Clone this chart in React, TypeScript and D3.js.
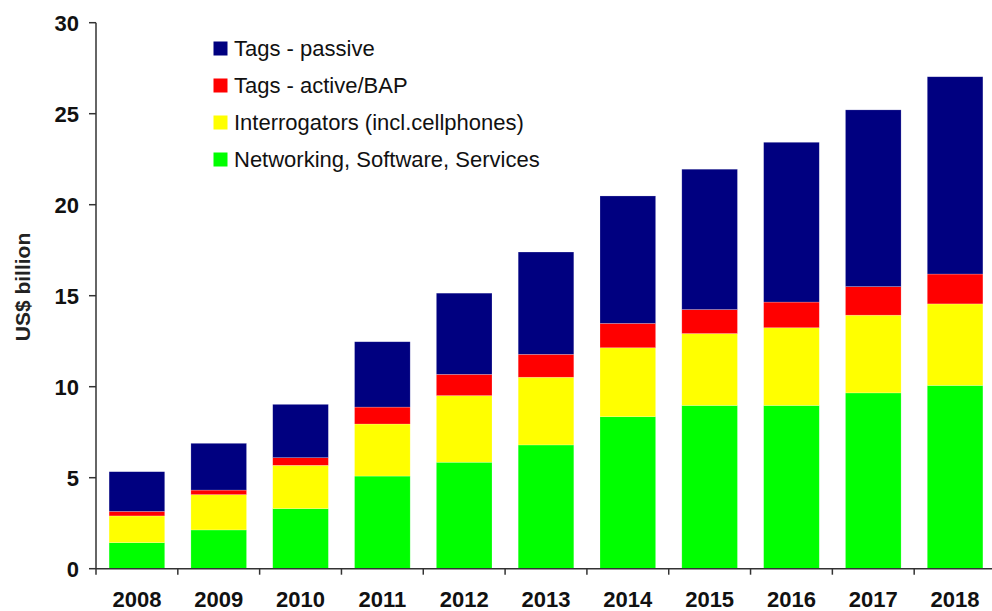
import React from "react";
import * as d3 from "d3";

const years = ["2008","2009","2010","2011","2012","2013","2014","2015","2016","2017","2018"];
const networking = [1.43, 2.13, 3.30, 5.09, 5.85, 6.80, 8.35, 8.97, 8.97, 9.66, 10.07];
const interrogators = [1.47, 1.94, 2.38, 2.86, 3.66, 3.72, 3.79, 3.95, 4.27, 4.27, 4.48];
const tagsActive = [0.25, 0.25, 0.42, 0.93, 1.17, 1.26, 1.34, 1.32, 1.41, 1.57, 1.64];
const tagsPassive = [2.18, 2.57, 2.93, 3.59, 4.46, 5.62, 7.0, 7.71, 8.78, 9.71, 10.84];
const yTicks = [0, 5, 10, 15, 20, 25, 30];
const seriesKeys = ["networking", "interrogators", "tagsActive", "tagsPassive"];
const seriesColors: Record<string, string> = {
  networking: "#00FF00",
  interrogators: "#FFFF00",
  tagsActive: "#FF0000",
  tagsPassive: "#000080",
};
const legendItems = [
  { key: "tagsPassive", label: "Tags - passive" },
  { key: "tagsActive", label: "Tags - active/BAP" },
  { key: "interrogators", label: "Interrogators (incl.cellphones)" },
  { key: "networking", label: "Networking, Software, Services" },
];

const rows = years.map((y, i) => ({
  year: y,
  networking: networking[i],
  interrogators: interrogators[i],
  tagsActive: tagsActive[i],
  tagsPassive: tagsPassive[i],
}));

export default function App() {
  const W = 992, H = 611;
  const x0 = 96, x1 = 996, yBase = 568.7, yTop = 22.7;
  const x = d3.scaleBand<string>().domain(years).range([x0, x1]).paddingInner(0.32).paddingOuter(0.16);
  const y = d3.scaleLinear().domain([0, 30]).range([yBase, yTop]);
  const stack = d3.stack<any>().keys(seriesKeys);
  const layers = stack(rows);
  const step = x.step();
  const font = "'Liberation Sans', Arial, sans-serif";
  const axisColor = "#333";

  return (
    <svg width={W} height={H} style={{ position: "absolute", left: 0, top: 0, background: "#fff" }}>
      {layers.map((layer) => (
        <g key={layer.key} fill={seriesColors[layer.key]}>
          {layer.map((d, i) => (
            <rect
              key={i}
              x={x(years[i])}
              width={x.bandwidth()}
              y={y(d[1])}
              height={y(d[0]) - y(d[1])}
              stroke="#fff"
              strokeOpacity={0.35}
              strokeWidth={0.6}
            />
          ))}
        </g>
      ))}
      {/* y axis */}
      <line x1={x0} x2={x0} y1={yTop} y2={yBase} stroke={axisColor} strokeWidth={1.5} />
      {yTicks.map((t) => (
        <g key={t}>
          <line x1={x0 - 7} x2={x0} y1={y(t)} y2={y(t)} stroke={axisColor} strokeWidth={1.5} />
          <text x={79} y={y(t)} dy="0.36em" textAnchor="end" fontFamily={font} fontWeight="bold" fontSize={22} fill="#111">
            {t}
          </text>
        </g>
      ))}
      {/* x axis */}
      <line x1={x0} x2={x1} y1={yBase} y2={yBase} stroke={axisColor} strokeWidth={1.5} />
      {d3.range(years.length + 1).map((i) => (
        <line key={i} x1={x0 + i * step} x2={x0 + i * step} y1={yBase} y2={yBase + 6} stroke={axisColor} strokeWidth={1.5} />
      ))}
      {years.map((yr) => (
        <text key={yr} x={(x(yr) as number) + x.bandwidth() / 2} y={607} textAnchor="middle" fontFamily={font} fontWeight="bold" fontSize={22} fill="#111">
          {yr}
        </text>
      ))}
      <text
        transform={`translate(30,287) rotate(-90)`}
        textAnchor="middle"
        fontFamily={font}
        fontWeight="bold"
        fontSize={21}
        fill="#222"
      >
        US$ billion
      </text>
      {/* legend */}
      {legendItems.map((it, i) => {
        const cy = 48.5 + i * 37;
        return (
          <g key={it.key}>
            <rect x={213.5} y={cy - 7} width={14} height={14} fill={seriesColors[it.key]} />
            <text x={234} y={cy} dy="0.36em" fontFamily={font} fontSize={22} fill="#111">
              {it.label}
            </text>
          </g>
        );
      })}
    </svg>
  );
}
